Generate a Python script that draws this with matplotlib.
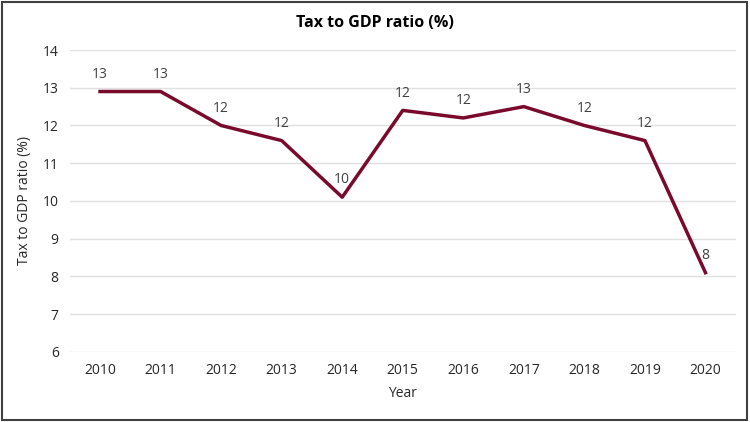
import math
import matplotlib
matplotlib.use('Agg')
import matplotlib.pyplot as plt
from matplotlib.patches import Rectangle

years = ['2010', '2011', '2012', '2013', '2014', '2015', '2016', '2017', '2018', '2019', '2020']
ratio = [12.9, 12.9, 12.0, 11.6, 10.1, 12.4, 12.2, 12.5, 12.0, 11.6, 8.1]

plt.rcParams['font.family'] = ['Open Sans', 'DejaVu Sans']

fig = plt.figure(figsize=(7.5, 4.22), dpi=100)
ax = fig.add_axes([0.093, 0.166, 0.888, 0.7155])

x = list(range(len(years)))
ax.plot(x, ratio, color='#7A0A2C', linewidth=2.5)
for xi, v in zip(x, ratio):
    # round half up, like the spreadsheet labels
    ax.annotate(str(int(math.floor(v + 0.5))), (xi, v), xytext=(0, 7),
                textcoords='offset points', ha='center', va='bottom',
                fontsize=10, color='#404040')

ax.set_xlim(-0.5, len(years) - 0.5)
ax.set_ylim(6, 14)
ax.set_yticks(range(6, 15))
ax.set_xticks(x)
ax.set_xticklabels(years)
ax.grid(axis='y', color='#E0E0E0', linewidth=1)
ax.set_axisbelow(True)
for s in ax.spines.values():
    s.set_visible(False)
ax.tick_params(length=0, labelsize=10, labelcolor='#262626', pad=8)
ax.set_xlabel('Year', fontsize=10, color='#262626', labelpad=6)
ax.set_ylabel('Tax to GDP ratio (%)', fontsize=10, color='#262626', labelpad=8)
fig.text(0.5, 0.945, 'Tax to GDP ratio (%)', ha='center', va='center',
         fontsize=11.5, fontweight='bold', color='#000000')

fig.patches.append(Rectangle((0.003, 0.005), 0.993, 0.99, transform=fig.transFigure,
                             fill=False, edgecolor='#404040', linewidth=1.5))

fig.savefig('out.png', dpi=100)
